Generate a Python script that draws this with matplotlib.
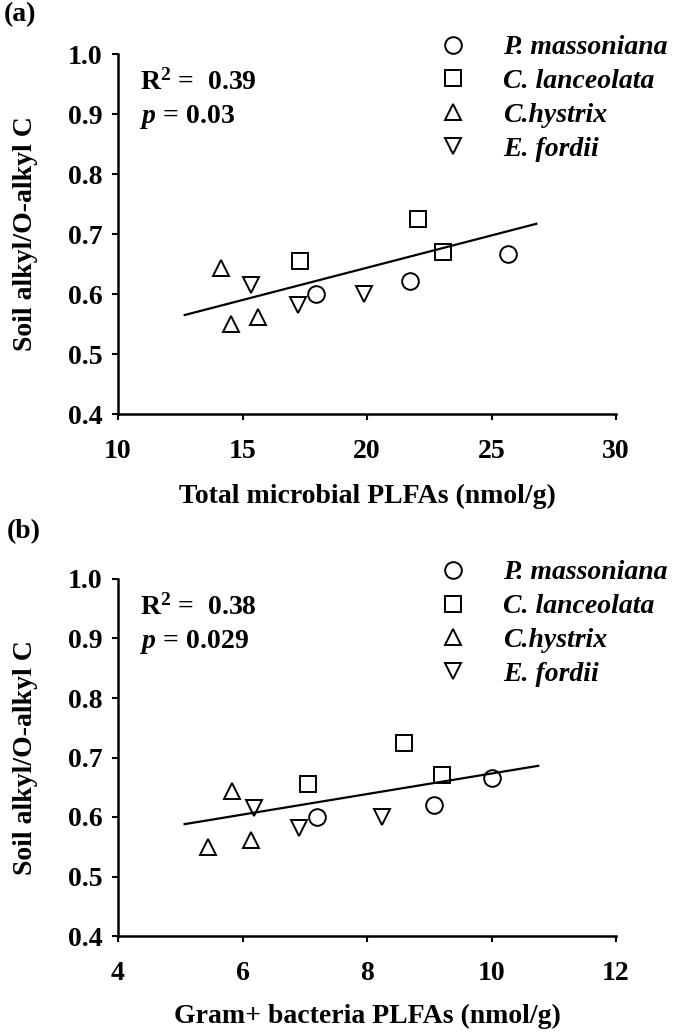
import matplotlib
matplotlib.use("Agg")
import matplotlib.pyplot as plt

W, H = 675, 1035

species = ["P. massoniana", "C. lanceolata", "C.hystrix", "E. fordii"]
markers = ["o", "s", "^", "v"]

# y values shared by both panels (same soil samples), one list per species
alkyl_ratio = [[0.600, 0.621, 0.666], [0.655, 0.725, 0.670],
               [0.644, 0.550, 0.562], [0.615, 0.582, 0.600]]
total_plfa = [[17.96, 21.72, 25.67], [17.32, 22.03, 23.07],
              [14.13, 14.54, 15.63], [15.34, 17.22, 19.87]]
gram_plfa = [[7.20, 9.08, 10.01], [7.06, 8.60, 9.20],
             [5.83, 5.44, 6.13], [6.19, 6.90, 8.24]]

fit_a_x = [12.68, 26.80]
fit_a_y = [0.565, 0.717]
fit_b_x = [5.07, 10.75]
fit_b_y = [0.588, 0.686]

stats_a = ["R$^{2}$ =  0.39", "$p$ = 0.03"]
stats_b = ["R$^{2}$ =  0.38", "$p$ = 0.029"]

plt.rcParams["font.family"] = ["Liberation Serif", "DejaVu Serif"]
plt.rcParams["font.weight"] = "bold"
plt.rcParams["font.size"] = 20
plt.rcParams["mathtext.fontset"] = "custom"
plt.rcParams["mathtext.rm"] = "Liberation Serif:bold"
plt.rcParams["mathtext.it"] = "Liberation Serif:italic:bold"
plt.rcParams["mathtext.bf"] = "Liberation Serif:bold"


def fx(px):
    return px / W


def fy(py):
    return 1 - py / H


fig = plt.figure(figsize=(W / 100, H / 100), dpi=100)
ax_a = fig.add_axes([fx(118), fy(414), fx(616) - fx(118), fy(54) - fy(414)])
ax_b = fig.add_axes([fx(118), fy(936), fx(616) - fx(118), fy(579) - fy(936)])


def draw_panel(ax, xs, fit_x, fit_y, xlim, xticks, xlabel, stats, top_px, label_y):
    for i in range(len(species)):
        ax.plot(xs[i], alkyl_ratio[i], markers[i], ls="none", ms=12,
                mfc="white", mec="black", mew=1.4, label=species[i],
                clip_on=False)
    ax.plot(fit_x, fit_y, color="black", lw=1.6)
    ax.set_xlim(*xlim)
    ax.set_ylim(0.4, 1.0)
    ax.set_xticks(xticks)
    ax.set_yticks([0.4, 0.5, 0.6, 0.7, 0.8, 0.9, 1.0])
    ax.set_yticklabels(["0.4", "0.5", "0.6", "0.7", "0.8", "0.9", "1.0"])
    for s in ["top", "right"]:
        ax.spines[s].set_visible(False)
    for s in ["left", "bottom"]:
        ax.spines[s].set_linewidth(1.8)
    ax.tick_params(axis="both", direction="out", length=4, width=1.5)
    ax.tick_params(axis="x", pad=14)
    ax.tick_params(axis="y", pad=7)
    ax.set_xlabel(xlabel, fontweight="bold")
    ax.xaxis.set_label_coords(0.5, label_y)
    ax.set_ylabel("Soil alkyl/O-alkyl C", fontweight="bold")
    ax.yaxis.set_label_coords(-0.16, 0.5)

    fig.text(fx(140), fy(top_px + 28), stats[0], ha="left", va="center")
    fig.text(fx(140), fy(top_px + 63), stats[1], ha="left", va="center")

    leg = ax.legend(loc="upper left", bbox_to_anchor=(fx(439), fy(top_px - 19)),
                    bbox_transform=fig.transFigure, frameon=False,
                    handlelength=1.0, handletextpad=1.3, labelspacing=0.3,
                    borderpad=0, borderaxespad=0, numpoints=1)
    for t in leg.get_texts():
        t.set_fontstyle("italic")
        t.set_fontweight("bold")


draw_panel(ax_a, total_plfa, fit_a_x, fit_a_y, (10, 30), [10, 15, 20, 25, 30],
           "Total microbial PLFAs (nmol/g)", stats_a, 54, -0.195)
draw_panel(ax_b, gram_plfa, fit_b_x, fit_b_y, (4, 12), [4, 6, 8, 10, 12],
           "Gram+ bacteria PLFAs (nmol/g)", stats_b, 579, -0.19)

fig.text(fx(4), fy(15), "(a)", ha="left", va="center")
fig.text(fx(7), fy(532), "(b)", ha="left", va="center")

fig.savefig("out.png", dpi=100)
